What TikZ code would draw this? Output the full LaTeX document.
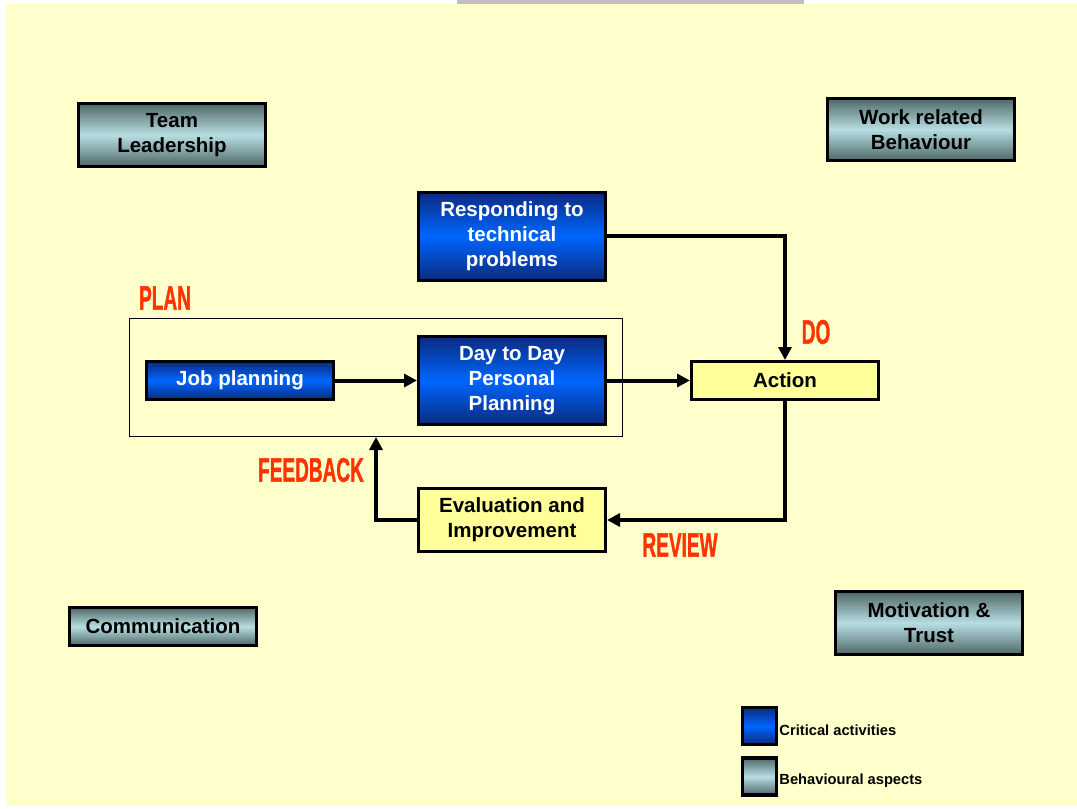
\documentclass[tikz,border=0pt]{standalone}
\usepackage{fontspec}
\setmainfont{Liberation Sans}
\newfontfamily\stagefont[FakeBold=1.6]{Liberation Sans}
\usepackage{tikz}
\usetikzlibrary{arrows.meta,positioning}

\definecolor{pagebg}{HTML}{FFFFCC}
\definecolor{graydark}{HTML}{4E6767}
\definecolor{graylight}{HTML}{B8DEE2}
\definecolor{bluedark}{HTML}{0A2A80}
\definecolor{bluelight}{HTML}{0066FF}
\definecolor{actyellow}{HTML}{FFFF99}
\definecolor{stagered}{HTML}{FF3300}

\begin{document}
\begin{tikzpicture}[x=1pt,y=-1pt,
 boxfont/.style={font=\bfseries\fontsize{20.5}{25}\selectfont},
 behav/.style={boxfont, draw=black, line width=3pt, inner sep=0pt, align=center,
   minimum width=187pt, top color=graydark, bottom color=graydark, middle color=graylight},
 crit/.style={boxfont, draw=black, line width=3pt, inner sep=0pt, align=center, text=white,
   minimum width=187pt, top color=bluedark, bottom color=bluedark, middle color=bluelight},
 cycle/.style={boxfont, draw=black, line width=3pt, inner sep=0pt, align=center,
   minimum width=187pt, fill=actyellow},
 stage/.style={font=\stagefont\bfseries\fontsize{34}{34}\selectfont, text=stagered, xscale=0.56, inner sep=0pt},
 conn/.style={line width=4pt, -{Triangle[length=13pt,width=13pt]}},
 legbox/.style={draw=black, line width=3.5pt, minimum width=34pt, minimum height=37pt, inner sep=0pt},
 legtext/.style={font=\bfseries\fontsize{14.7}{16}\selectfont, inner sep=0pt}]
\useasboundingbox (0,0) rectangle (1077,809);
\fill[pagebg] (6,4) rectangle (1077,806);
\fill[black!25] (457,0) rectangle (804,4);

\node[behav, minimum height=63pt] (team) at (172,135) {Team\\Leadership};
\node[behav, minimum height=62pt] (work) at (921,129.5) {Work related\\Behaviour};
\node[behav, minimum height=38pt] (comm) at (163,626.5) {Communication};
\node[behav, minimum height=63pt] (motiv) at (929,623) {Motivation \&\\Trust};

\node[draw=black, line width=1pt, minimum width=493pt, minimum height=118pt] (planbox) at (376,377.5) {};
\node[crit, minimum height=88pt] (resp) at (512,236) {Responding to\\technical\\problems};
\node[crit, minimum height=38pt] (job) at (240,380.5) {Job planning};
\node[crit, minimum height=88pt] (daily) at (512,380.5) {Day to Day\\Personal\\Planning};
\node[cycle, minimum height=38pt] (action) at (785,380.5) {Action};
\node[cycle, minimum height=63pt] (eval) at (512,520) {Evaluation and\\Improvement};

\node[stage] (plan) at (165,298) {PLAN};
\node[stage] (do) at (816,332) {DO};
\node[stage] (feedback) at (311,470) {FEEDBACK};
\node[stage] (review) at (680,545) {REVIEW};

\draw[conn] (job) -- (daily);
\draw[conn] (daily) -- (action);
\draw[conn] (resp.east) -| (action.north);
\draw[conn] (action.south) |- (eval.east);
\draw[conn] (eval.west) -| (planbox.south);

\node[legbox, top color=bluedark, bottom color=bluedark, middle color=bluelight] (legcrit) at (759.5,726) {};
\node[legbox, top color=graydark, bottom color=graydark, middle color=graylight] (legbehav) at (759.5,776.5) {};
\node[legtext, right=1pt of legcrit, yshift=-4pt] (legcrittext) {Critical activities};
\node[legtext, right=1pt of legbehav, yshift=-4pt] (legbehavtext) {Behavioural aspects};
\end{tikzpicture}
\end{document}
